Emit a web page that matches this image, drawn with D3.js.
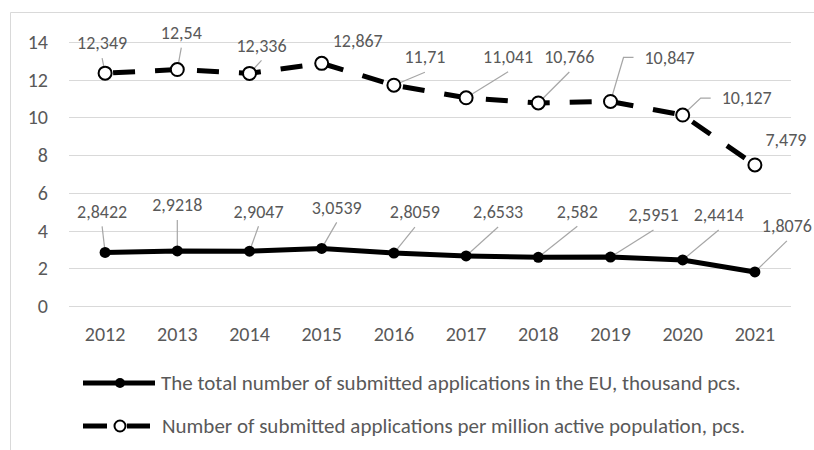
<!DOCTYPE html>
<html>
<head>
<meta charset="utf-8">
<script src="https://cdn.jsdelivr.net/npm/d3@7"></script>
<style>
  body { margin: 0; background: #fff; }
  svg text { font-family: Carlito, Calibri, Lato, sans-serif; fill: #595959; }
</style>
</head>
<body>
<div id="chart"></div>
<script>
  // data
  const years = [2012, 2013, 2014, 2015, 2016, 2017, 2018, 2019, 2020, 2021];
  const totalApps = [2.8422, 2.9218, 2.9047, 3.0539, 2.8059, 2.6533, 2.582, 2.5951, 2.4414, 1.8076];
  const perMillion = [12.349, 12.54, 12.336, 12.867, 11.71, 11.041, 10.766, 10.847, 10.127, 7.479];
  const yTicks = [0, 2, 4, 6, 8, 10, 12, 14];
  const seriesNames = [
    "The total number of submitted applications in the EU, thousand pcs.",
    "Number of submitted applications per million active population, pcs."
  ];

  // label placement (offset of label centre from point) and leader type
  const totalLabelPos = [[-3, -41], [0, -46], [9, -40], [15, -41], [21, -41], [32, -44], [39, -46], [43, -42], [36, -45], [32, -46]];
  const totalLeader = ["line", "line", "line", "line", "line", "line", "line", "line", "line", "line"];
  const perLabelPos = [[-3, -30], [4, -37], [12, -28], [36, -23], [31, -28], [42, -41], [31, -46], [59, -44], [64, -17], [31, -25]];
  const perLeader = ["line", "line", "line", "none", "line", "line", "line", "elbow", "elbow", "none"];

  const width = 814, height = 450;
  const svg = d3.select("#chart").append("svg")
    .attr("width", width)
    .attr("height", height);

  // chart border (only left & top visible in crop)
  svg.append("path")
    .attr("d", "M10.5,450 L10.5,12.5 L814,12.5")
    .attr("fill", "none")
    .attr("stroke", "#d9d9d9")
    .attr("stroke-width", 1);

  const x = d3.scalePoint().domain(years).range([69, 791]).padding(0.5);
  const y = d3.scaleLinear().domain([0, 14]).range([306, 42]);

  // gridlines
  svg.append("g")
    .selectAll("line")
    .data(yTicks)
    .enter()
    .append("line")
    .attr("x1", 69).attr("x2", 791)
    .attr("y1", d => Math.round(y(d)) + 0.5)
    .attr("y2", d => Math.round(y(d)) + 0.5)
    .attr("stroke", "#d9d9d9")
    .attr("stroke-width", 1);

  svg.append("g")
    .selectAll("text")
    .data(yTicks)
    .enter()
    .append("text")
    .attr("x", 48)
    .attr("y", d => y(d))
    .attr("dy", "0.35em")
    .attr("text-anchor", "end")
    .style("font-size", "20px")
    .text(d => d);

  svg.append("g")
    .selectAll("text")
    .data(years)
    .enter()
    .append("text")
    .attr("x", d => x(d))
    .attr("y", 334)
    .attr("dy", "0.35em")
    .attr("text-anchor", "middle")
    .style("font-size", "20px")
    .text(d => d);

  const fmt = v => String(v).replace(".", ",");

  function leaders(values, pos, kind) {
    const g = svg.append("g");
    values.forEach(function (v, i) {
      const px = x(years[i]), py = y(v);
      const lx = px + pos[i][0], ly = py + pos[i][1];
      if (kind[i] === "line") {
        g.append("line")
          .attr("x1", lx).attr("y1", ly + 15)
          .attr("x2", px).attr("y2", py)
          .attr("stroke", "#a6a6a6").attr("stroke-width", 1.2);
      } else if (kind[i] === "elbow") {
        const ex = lx - 36;
        g.append("polyline")
          .attr("points", [[ex, ly], [ex - 10, ly], [px, py]].map(p => p.join(",")).join(" "))
          .attr("fill", "none")
          .attr("stroke", "#a6a6a6").attr("stroke-width", 1.2);
      }
    });
  }

  function labels(values, pos) {
    svg.append("g")
      .selectAll("text")
      .data(values)
      .enter()
      .append("text")
      .attr("x", (d, i) => x(years[i]) + pos[i][0])
      .attr("y", (d, i) => y(d) + pos[i][1])
      .attr("dy", "0.35em")
      .attr("text-anchor", "middle")
      .style("font-size", "18px")
      .text(d => fmt(d));
  }

  leaders(totalApps, totalLabelPos, totalLeader);
  leaders(perMillion, perLabelPos, perLeader);

  const line = d3.line()
    .x((d, i) => x(years[i]))
    .y(d => y(d));

  svg.append("path")
    .datum(totalApps)
    .attr("d", line)
    .attr("fill", "none")
    .attr("stroke", "#000")
    .attr("stroke-width", 5);

  svg.append("path")
    .datum(perMillion)
    .attr("d", line)
    .attr("fill", "none")
    .attr("stroke", "#000")
    .attr("stroke-width", 5)
    .attr("stroke-dasharray", "22,20")
    .attr("stroke-dashoffset", -8);

  svg.append("g")
    .selectAll("circle")
    .data(totalApps)
    .enter()
    .append("circle")
    .attr("cx", (d, i) => x(years[i]))
    .attr("cy", d => y(d))
    .attr("r", 5.5)
    .attr("fill", "#000");

  svg.append("g")
    .selectAll("circle")
    .data(perMillion)
    .enter()
    .append("circle")
    .attr("cx", (d, i) => x(years[i]))
    .attr("cy", d => y(d))
    .attr("r", 6.5)
    .attr("fill", "#fff")
    .attr("stroke", "#000")
    .attr("stroke-width", 2);

  labels(totalApps, totalLabelPos);
  labels(perMillion, perLabelPos);

  // legend
  const legend = svg.append("g");
  const l1 = legend.append("g").attr("transform", "translate(0,383)");
  l1.append("line").attr("x1", 83).attr("x2", 155).attr("y1", 0).attr("y2", 0)
    .attr("stroke", "#000").attr("stroke-width", 5);
  l1.append("circle").attr("cx", 120).attr("cy", 0).attr("r", 5).attr("fill", "#000");
  l1.append("text").attr("x", 161).attr("y", 0).attr("dy", "0.35em")
    .style("font-size", "21px").text(seriesNames[0]);

  const l2 = legend.append("g").attr("transform", "translate(0,426)");
  l2.append("line").attr("x1", 83).attr("x2", 107).attr("y1", 0).attr("y2", 0)
    .attr("stroke", "#000").attr("stroke-width", 5);
  l2.append("line").attr("x1", 127).attr("x2", 150).attr("y1", 0).attr("y2", 0)
    .attr("stroke", "#000").attr("stroke-width", 5);
  l2.append("circle").attr("cx", 120).attr("cy", 0).attr("r", 5.5)
    .attr("fill", "#fff").attr("stroke", "#000").attr("stroke-width", 2);
  l2.append("text").attr("x", 162).attr("y", 0).attr("dy", "0.35em")
    .style("font-size", "21px").text(seriesNames[1]);
</script>
</body>
</html>
